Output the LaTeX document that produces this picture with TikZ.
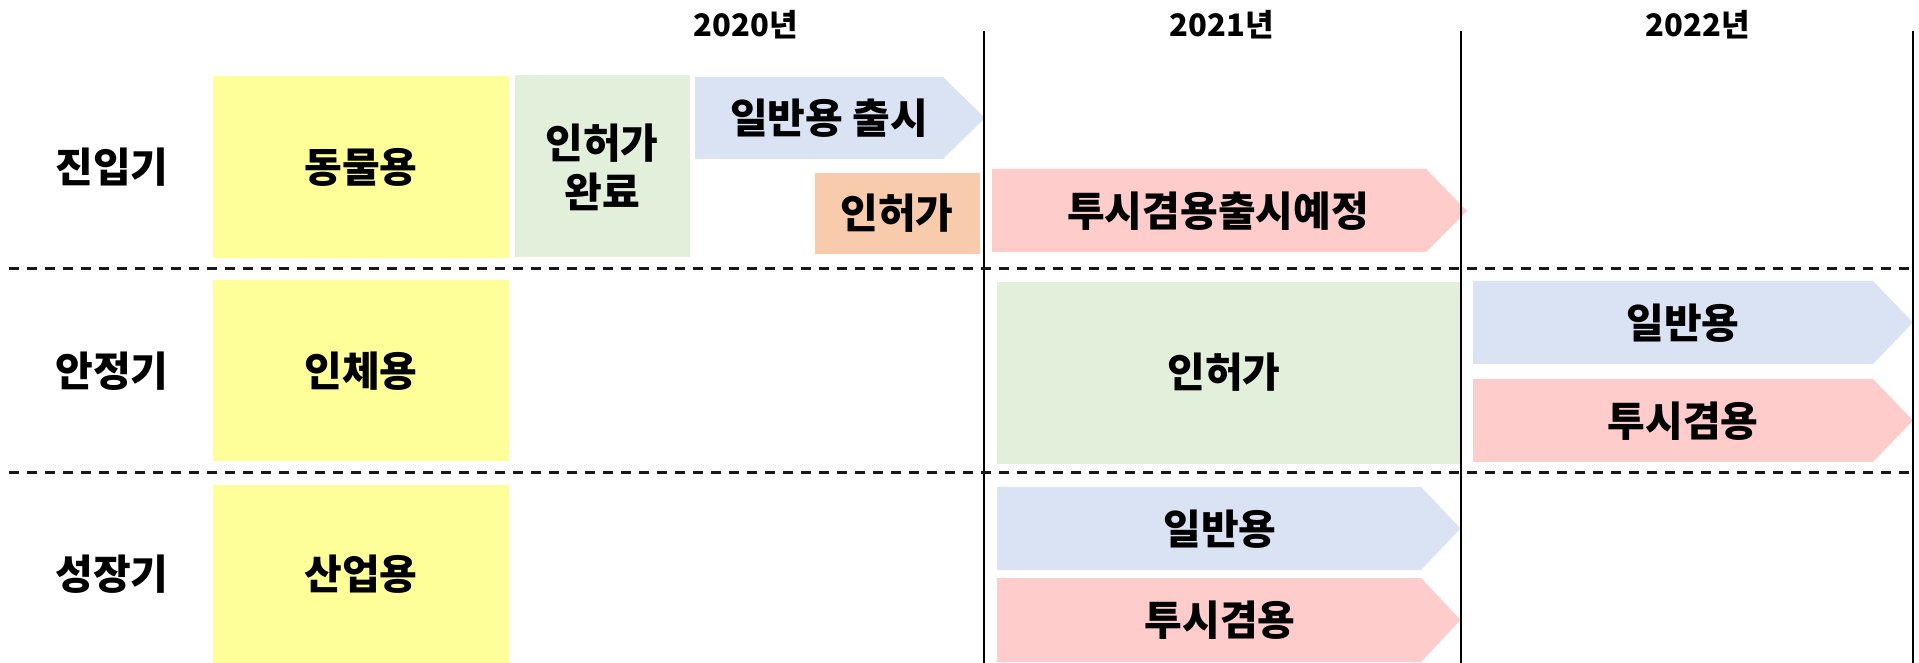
\documentclass[tikz,border=0pt]{standalone}
\usepackage{fontspec}
\newfontfamily\kr{Noto Sans CJK KR}[UprightFont={* Black}]
\definecolor{cyel}{HTML}{FFFF99}
\definecolor{cgrn}{HTML}{E2EFDA}
\definecolor{cblu}{HTML}{DAE3F3}
\definecolor{cpnk}{HTML}{FFCCCC}
\definecolor{corg}{HTML}{F8CBAD}
\tikzset{
  lbl/.style={font=\kr\fontsize{20.5pt}{24.5pt}\selectfont, text=black, inner sep=0pt, align=center},
  yr/.style={font=\kr\fontsize{15.5pt}{17pt}\selectfont, text=black, inner sep=0pt},
  grid/.style={draw=black, line width=1pt},
  sep/.style={draw=black!90, line width=1.5pt, dash pattern=on 5pt off 4pt},
}
\begin{document}
\begin{tikzpicture}[x=0.5pt,y=-0.5pt]
\useasboundingbox[fill=white] (0,0) rectangle (1919,663);
% boxes
\fill[cyel] (213,76) rectangle (509,258);
\fill[cyel] (213,280) rectangle (509,461);
\fill[cyel] (213,485) rectangle (509,663);
\fill[cgrn] (515,75) rectangle (690,257);
\fill[corg] (815,173) rectangle (980,254);
\fill[cgrn] (997,282) rectangle (1460,464);
% chevrons
\fill[cblu] (695,77) -- (943,77) -- (985,118) -- (943,159) -- (695,159) -- cycle;
\fill[cpnk] (992,169) -- (1426,169) -- (1467,211) -- (1426,252) -- (992,252) -- cycle;
\fill[cblu] (1473,281) -- (1873,281) -- (1913,322.5) -- (1873,364) -- (1473,364) -- cycle;
\fill[cpnk] (1473,379) -- (1873,379) -- (1913,420.5) -- (1873,462) -- (1473,462) -- cycle;
\fill[cblu] (997,487) -- (1421,487) -- (1460.5,528.5) -- (1421,570) -- (997,570) -- cycle;
\fill[cpnk] (997,578) -- (1421,578) -- (1460.5,620) -- (1421,662) -- (997,662) -- cycle;
% grid lines
\coordinate (v1t) at (984,31); \coordinate (v1b) at (984,663);
\coordinate (v2t) at (1460.5,31); \coordinate (v2b) at (1460.5,663);
\coordinate (v3t) at (1913,31); \coordinate (v3b) at (1913,663);
\draw[grid] (v1t) -- (v1b);
\draw[grid] (v2t) -- (v2b);
\draw[grid] (v3t) -- (v3b);
\coordinate (h1l) at (9,269); \coordinate (h1r) at (1916,269);
\coordinate (h2l) at (9,473); \coordinate (h2r) at (1916,473);
\draw[sep] (h1l) -- (h1r);
\draw[sep] (h2l) -- (h2r);
% year labels
\node[yr] (y20) at (746,25) {2020년};
\node[yr] (y21) at (1222,25) {2021년};
\node[yr] (y22) at (1698,25) {2022년};
% row labels
\node[lbl] (r1) at (112,167) {진입기};
\node[lbl] (r2) at (112,371) {안정기};
\node[lbl] (r3) at (112,574) {성장기};
% texts
\node[lbl] (a1) at (361,167) {동물용};
\node[lbl] (a2) at (361,371) {인체용};
\node[lbl] (a3) at (361,574) {산업용};
\node[lbl] (b1) at (602,167) {인허가\\완료};
\node[lbl] (c1) at (829,118) {일반용 출시};
\node[lbl] (d1) at (897,213) {인허가};
\node[lbl] (e1) at (1218,211) {투시겸용출시예정};
\node[lbl] (f1) at (1224,372) {인허가};
\node[lbl] (g1) at (1683,323) {일반용};
\node[lbl] (g2) at (1683,421) {투시겸용};
\node[lbl] (h1) at (1220,529) {일반용};
\node[lbl] (h2) at (1220,620) {투시겸용};
\end{tikzpicture}
\end{document}
